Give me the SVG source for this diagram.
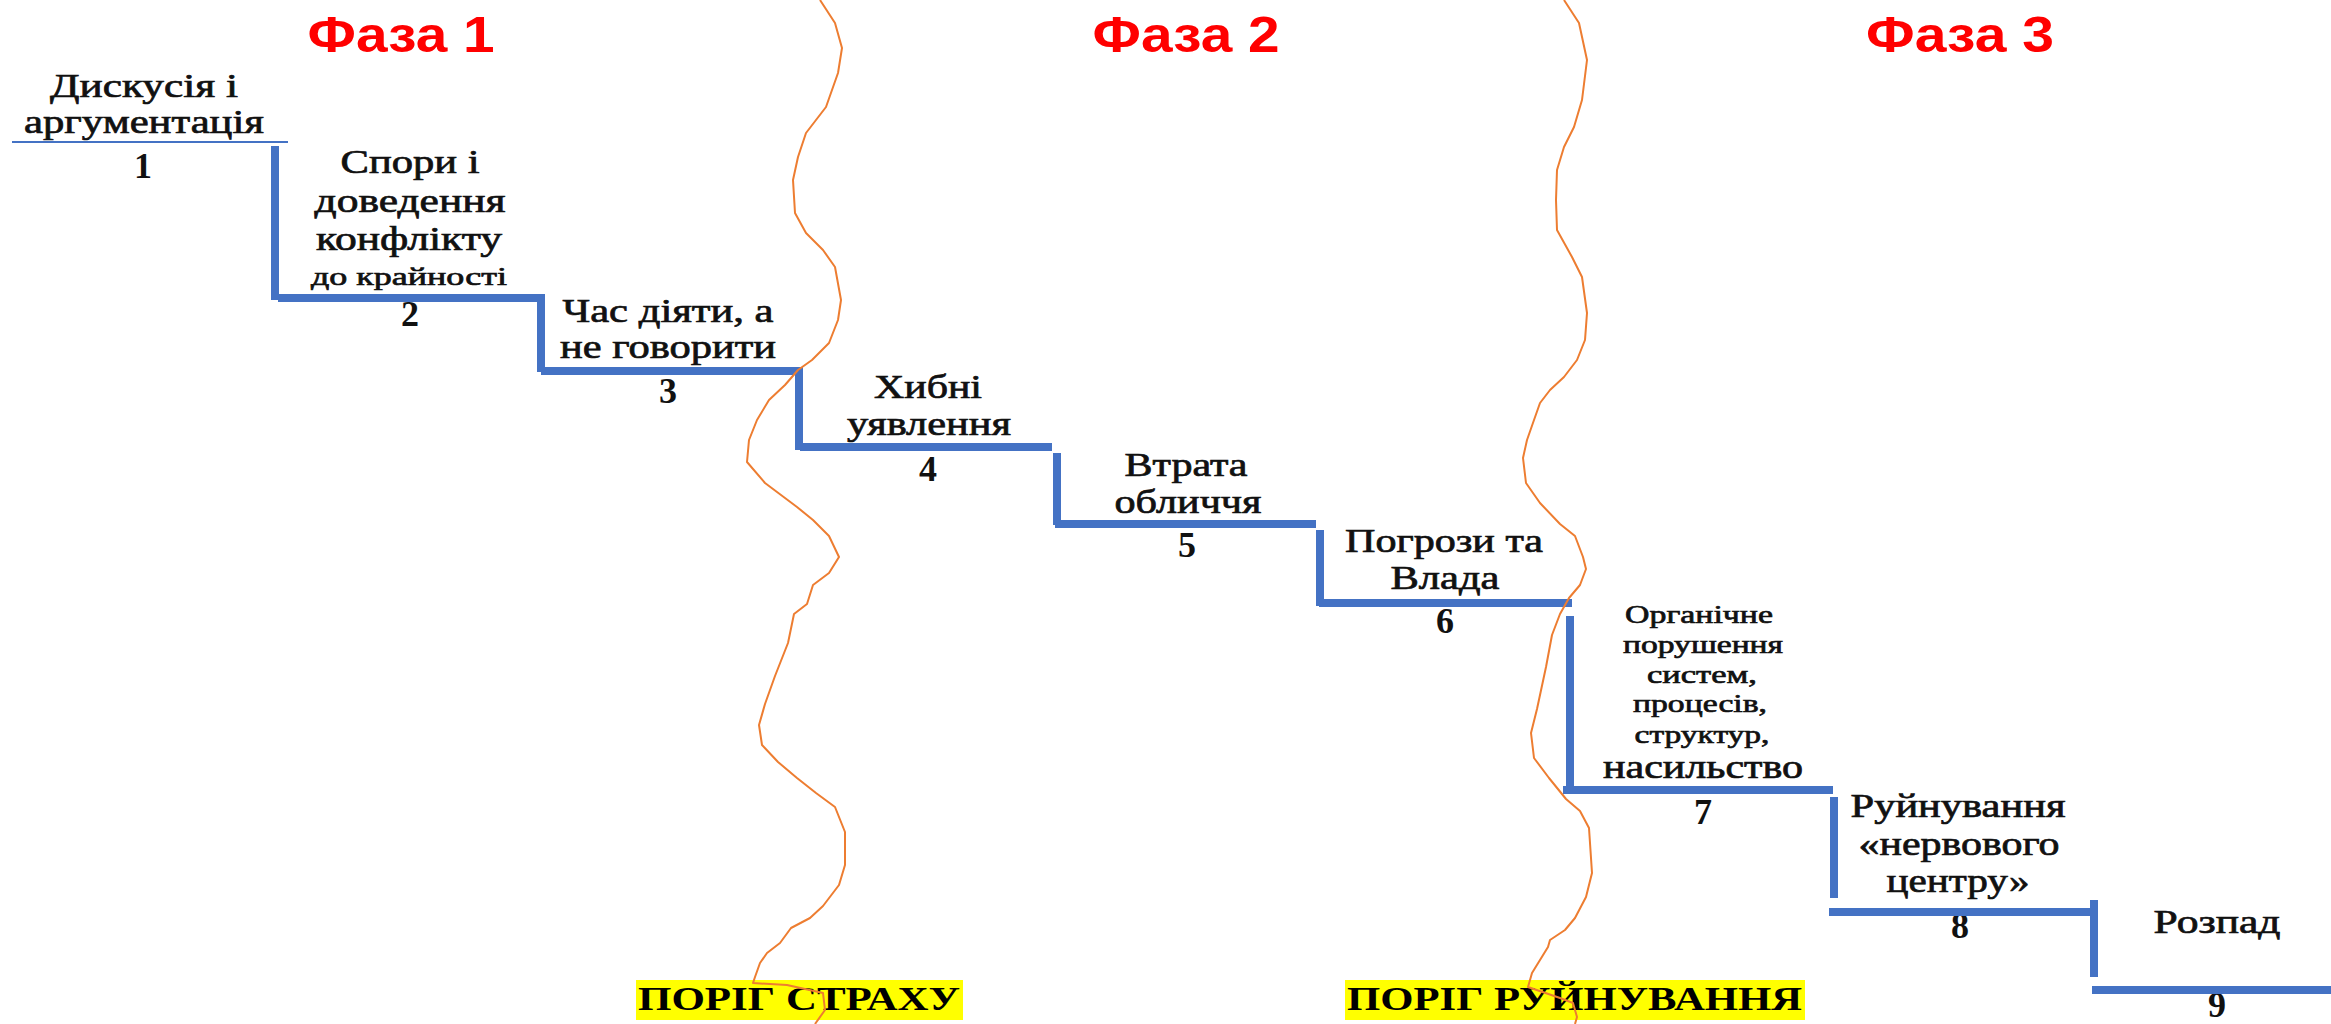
<svg xmlns="http://www.w3.org/2000/svg" width="2331" height="1024" viewBox="0 0 2331 1024">
<style>
.ph{font-family:"Liberation Sans",Arial,sans-serif;font-weight:bold;font-size:50px;fill:#FF0000;text-anchor:middle}
.lb{font-family:"Liberation Serif","Times New Roman",serif;font-weight:normal;font-size:33px;fill:#111;stroke:#111;stroke-width:0.7;text-anchor:middle}
.sm{font-size:26px}
.num{font-family:"Liberation Serif","Times New Roman",serif;font-weight:bold;font-size:36px;fill:#111;text-anchor:middle}
.st{stroke:#4472C4;stroke-width:8;fill:none}
.wv{stroke:#ED7D31;stroke-width:2;fill:none;stroke-linejoin:round}
.hl{fill:#FFFF00}
.th{font-family:"Liberation Serif","Times New Roman",serif;font-weight:bold;font-size:33px;fill:#000}
</style>
<rect width="2331" height="1024" fill="#fff"/>
<g id="phases">
<text class="ph" x="401" y="52" textLength="187" lengthAdjust="spacingAndGlyphs">Фаза 1</text>
<text class="ph" x="1186" y="52" textLength="187" lengthAdjust="spacingAndGlyphs">Фаза 2</text>
<text class="ph" x="1960" y="52" textLength="188" lengthAdjust="spacingAndGlyphs">Фаза 3</text>
</g>
<g id="step1">
<text class="lb" x="144" y="97" textLength="188" lengthAdjust="spacingAndGlyphs">Дискусія і</text>
<text class="lb" x="144" y="133" textLength="240" lengthAdjust="spacingAndGlyphs">аргументація</text>
<text class="num" x="143" y="178">1</text>
</g>
<g id="step2">
<text class="lb" x="410" y="173" textLength="139" lengthAdjust="spacingAndGlyphs">Спори і</text>
<text class="lb" x="410" y="212" textLength="191" lengthAdjust="spacingAndGlyphs">доведення</text>
<text class="lb" x="409" y="250" textLength="186" lengthAdjust="spacingAndGlyphs">конфлікту</text>
<text class="lb sm" x="409" y="285" textLength="196" lengthAdjust="spacingAndGlyphs">до крайності</text>
<text class="num" x="410" y="326">2</text>
</g>
<g id="step3">
<text class="lb" x="668" y="322" textLength="211" lengthAdjust="spacingAndGlyphs">Час діяти, а</text>
<text class="lb" x="668" y="358" textLength="216" lengthAdjust="spacingAndGlyphs">не говорити</text>
<text class="num" x="668" y="403">3</text>
</g>
<g id="step4">
<text class="lb" x="928" y="398" textLength="108" lengthAdjust="spacingAndGlyphs">Хибні</text>
<text class="lb" x="929" y="435" textLength="164" lengthAdjust="spacingAndGlyphs">уявлення</text>
<text class="num" x="928" y="481">4</text>
</g>
<g id="step5">
<text class="lb" x="1186" y="476" textLength="123" lengthAdjust="spacingAndGlyphs">Втрата</text>
<text class="lb" x="1188" y="513" textLength="147" lengthAdjust="spacingAndGlyphs">обличчя</text>
<text class="num" x="1187" y="557">5</text>
</g>
<g id="step6">
<text class="lb" x="1444" y="552" textLength="198" lengthAdjust="spacingAndGlyphs">Погрози та</text>
<text class="lb" x="1445" y="589" textLength="109" lengthAdjust="spacingAndGlyphs">Влада</text>
<text class="num" x="1445" y="633">6</text>
</g>
<g id="step7">
<text class="lb sm" x="1699" y="623" textLength="148" lengthAdjust="spacingAndGlyphs">Органічне</text>
<text class="lb sm" x="1703" y="653" textLength="160" lengthAdjust="spacingAndGlyphs">порушення</text>
<text class="lb sm" x="1702" y="683" textLength="110" lengthAdjust="spacingAndGlyphs">систем,</text>
<text class="lb sm" x="1700" y="712" textLength="134" lengthAdjust="spacingAndGlyphs">процесів,</text>
<text class="lb sm" x="1702" y="743" textLength="135" lengthAdjust="spacingAndGlyphs">структур,</text>
<text class="lb" x="1703" y="778" textLength="200" lengthAdjust="spacingAndGlyphs">насильство</text>
<text class="num" x="1703" y="824">7</text>
</g>
<g id="step8">
<text class="lb" x="1958" y="817" textLength="215" lengthAdjust="spacingAndGlyphs">Руйнування</text>
<text class="lb" x="1959" y="855" textLength="201" lengthAdjust="spacingAndGlyphs">«нервового</text>
<text class="lb" x="1958" y="892" textLength="143" lengthAdjust="spacingAndGlyphs">центру»</text>
<text class="num" x="1960" y="938">8</text>
</g>
<g id="step9">
<text class="lb" x="2217" y="933" textLength="127" lengthAdjust="spacingAndGlyphs">Розпад</text>
<text class="num" x="2217" y="1017">9</text>
</g>
<g id="thresholds">
<rect class="hl" x="636" y="980" width="327" height="40"/>
<text class="th" x="638" y="1010" textLength="322" lengthAdjust="spacingAndGlyphs">ПОРІГ СТРАХУ</text>
<rect class="hl" x="1345" y="980" width="460" height="40"/>
<text class="th" x="1347" y="1010" textLength="455" lengthAdjust="spacingAndGlyphs">ПОРІГ РУЙНУВАННЯ</text>
</g>
<g id="connectors">
<line x1="12" y1="142" x2="288" y2="142" stroke="#4472C4" stroke-width="2"/>
<line class="st" x1="275" y1="146" x2="275" y2="300"/>
<line class="st" x1="278" y1="298" x2="545" y2="298"/>
<line class="st" x1="541" y1="298" x2="541" y2="372"/>
<line class="st" x1="541" y1="371" x2="803" y2="371"/>
<line class="st" x1="799" y1="368" x2="799" y2="450"/>
<line class="st" x1="800" y1="447" x2="1052" y2="447"/>
<line class="st" x1="1057" y1="453" x2="1057" y2="525"/>
<line class="st" x1="1055" y1="524" x2="1316" y2="524"/>
<line class="st" x1="1320" y1="530" x2="1320" y2="606"/>
<line class="st" x1="1319" y1="603" x2="1572" y2="603"/>
<line class="st" x1="1570" y1="616" x2="1570" y2="792"/>
<line class="st" x1="1563" y1="790" x2="1833" y2="790"/>
<line class="st" x1="1834" y1="797" x2="1834" y2="898"/>
<line class="st" x1="1829" y1="912" x2="2098" y2="912"/>
<line class="st" x1="2094" y1="900" x2="2094" y2="977"/>
<line class="st" x1="2092" y1="990" x2="2331" y2="990"/>
</g>
<g id="wave1">
<polyline class="wv" points="820,0 835,23 842,48 838,73 826,107 806,133 798,157 793,180 795,213 806,233 823,250 835,267 841,300 838,320 829,343 812,360 798,370 785,385 769,400 757,420 749,440 747,462 765,483 797,507 813,520 829,536 839,557 829,573 813,585 807,604 794,614 788,643 775,676 765,704 759,725 762,745 778,762 797,778 816,793 835,807 845,832 845,865 839,885 823,906 810,918 791,928 780,943 767,953 760,963 755,977 753,983 787,985 823,993 825,1010 815,1024"/>
</g>
<g id="wave2">
<polyline class="wv" points="1564,0 1579,23 1587,60 1582,100 1574,127 1564,147 1557,170 1556,200 1557,230 1572,257 1582,277 1587,313 1585,340 1577,360 1564,377 1550,390 1540,403 1534,420 1527,440 1523,458 1526,483 1540,503 1560,524 1575,536 1583,557 1586,569 1580,585 1569,598 1560,614 1552,635 1546,667 1537,709 1531,733 1534,758 1549,778 1566,799 1580,811 1589,828 1592,873 1586,897 1575,918 1565,930 1550,940 1548,947 1540,960 1532,973 1528,987 1560,998 1573,1003 1577,1017 1575,1024"/>
</g>
</svg>
